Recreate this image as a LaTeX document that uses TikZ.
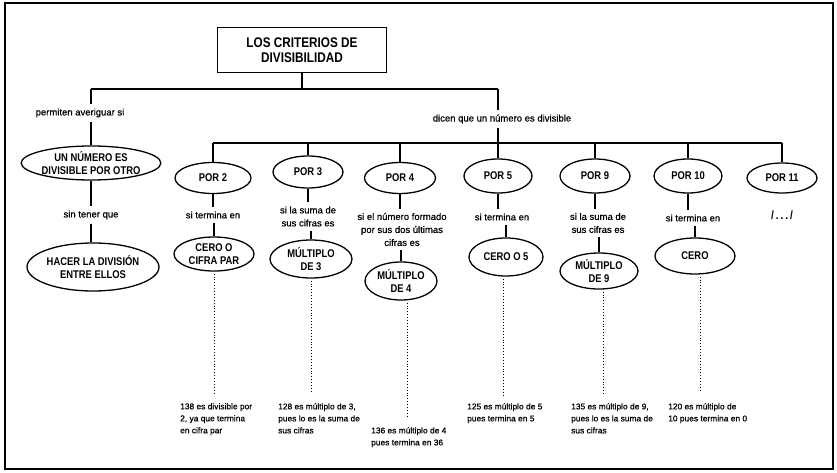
\documentclass[tikz,border=0pt]{standalone}
\usepackage{fontspec}
\newfontfamily\capsf{Liberation Sans}[FakeStretch=0.84]
\newfontfamily\labf{Liberation Sans}[FakeBold=0.6]
\usetikzlibrary{shapes.geometric}
\begin{document}
\begin{tikzpicture}[x=1pt,y=-1pt,
  oval/.style={draw, ellipse, line width=1.3pt, inner sep=0pt, align=center,
    font=\capsf\bfseries\fontsize{11.2}{12.5}\selectfont},
  titlebox/.style={draw, rectangle, line width=1.3pt, inner sep=0pt, align=center,
    minimum width=169pt, minimum height=45pt,
    font=\capsf\bfseries\fontsize{14}{15.5}\selectfont},
  lab/.style={inner xsep=1pt, inner ysep=4pt, align=center,
    font=\labf\fontsize{9.5}{13}\selectfont},
  ex/.style={anchor=north west, inner sep=0pt, align=left,
    font=\labf\fontsize{8.4}{12}\selectfont},
  conn/.style={line width=1.2pt},
  dots/.style={line width=1pt, dash pattern=on 0.9pt off 2pt}]
\useasboundingbox (0,0) rectangle (837,473);
\draw[line width=1.5pt] (5,3) rectangle (833,469);

% title
\node[titlebox] (title) at (302,50) {LOS CRITERIOS DE\\DIVISIBILIDAD};
\coordinate (jT) at (302,89);
\coordinate (jL) at (91,89);
\coordinate (jR) at (498,89);
\draw[conn] (title.south) -- (jT);
\draw[conn] (jL) -- (jR);

% left branch
\node[lab] (lp) at (80,113) {permiten averiguar si};
\node[oval, minimum width=116pt, minimum height=34pt] (e1) at (91,163) {UN NÚMERO ES\\DIVISIBLE POR OTRO};
\node[lab] (ls) at (91,215) {sin tener que};
\node[oval, minimum width=132pt, minimum height=48pt] (e2) at (93,267) {HACER LA DIVISIÓN\\ENTRE ELLOS};
\draw[conn] (jL) -- (jL |- lp.north);
\draw[conn] (lp.south -| jL) -- (e1.north);
\draw[conn] (e1.south) -- (e1.south |- ls.north);
\draw[conn] (ls.south) -- (ls.south |- e2.north);

% right branch
\node[lab] (ld) at (502,119) {dicen que un número es divisible};
\coordinate (h0) at (213,143);
\coordinate (h1) at (782,143);
\draw[conn] (jR) -- (jR |- ld.north);
\draw[conn] (ld.south -| jR) -- (jR |- h0);
\draw[conn] (h0) -- (h1);

\node[oval, minimum width=76pt, minimum height=31pt] (p2) at (213,178) {POR 2};
\node[oval, minimum width=70pt, minimum height=32pt] (p3) at (308,172) {POR 3};
\node[oval, minimum width=71pt, minimum height=31pt] (p4) at (400,178) {POR 4};
\node[oval, minimum width=68pt, minimum height=34pt] (p5) at (498,176) {POR 5};
\node[oval, minimum width=70pt, minimum height=34pt] (p9) at (595,176) {POR 9};
\node[oval, minimum width=68pt, minimum height=34pt] (p10) at (688,176) {POR 10};
\node[oval, minimum width=70pt, minimum height=30pt] (p11) at (782,178) {POR 11};
\foreach \p in {p2,p3,p4,p5,p9,p10,p11}{
  \draw[conn] (\p.north |- h0) -- (\p.north);
}

\node[lab] (t2) at (213,215) {si termina en};
\node[lab] (t3) at (308,216.5) {si la suma de\\sus cifras es};
\node[lab] (t4) at (402,229.5) {si el número formado\\por sus dos últimas\\cifras es};
\node[lab] (t5) at (502,217) {si termina en};
\node[lab] (t9) at (598,223) {si la suma de\\sus cifras es};
\node[lab] (t10) at (693,218) {si termina en};
\node[font=\capsf\bfseries\fontsize{12}{14}\selectfont] (t11) at (782,215) {/\,.\,.\,.\,/};

\node[oval, minimum width=80pt, minimum height=34pt] (c2) at (214,254) {CERO O\\CIFRA PAR};
\node[oval, minimum width=82pt, minimum height=38pt] (c3) at (311,259) {MÚLTIPLO\\DE 3};
\node[oval, minimum width=72pt, minimum height=38pt] (c4) at (401,281) {MÚLTIPLO\\DE 4};
\node[oval, minimum width=74pt, minimum height=38pt] (c5) at (506,257) {CERO O 5};
\node[oval, minimum width=78pt, minimum height=36pt] (c9) at (599,271) {MÚLTIPLO\\DE 9};
\node[oval, minimum width=80pt, minimum height=36pt] (c10) at (695,256) {CERO};

\foreach \p/\t/\c in {p2/t2/c2,p3/t3/c3,p4/t4/c4,p5/t5/c5,p9/t9/c9,p10/t10/c10}{
  \draw[conn] (\p.south) -- (\p.south |- \t.north);
  \draw[conn] (\t.south -| \c.north) -- (\c.north);
}

% dotted leaders
\coordinate (d2) at (214,395);
\coordinate (d3) at (311,392);
\coordinate (d4) at (407,418);
\coordinate (d5) at (503,395);
\coordinate (d9) at (603,395);
\coordinate (d10) at (700,392);
\foreach \c/\d in {c2/d2,c3/d3,c4/d4,c5/d5,c9/d9,c10/d10}{
  \draw[dots] ([yshift=-2pt]\c.south -| \d) -- (\d);
}

% examples
\node[ex] (x2) at (180,403) {138 es divisible por\\2, ya que termina\\en cifra par};
\node[ex] (x3) at (278,403) {128 es múltiplo de 3,\\pues lo es la suma de\\sus cifras};
\node[ex] (x4) at (371,427) {136 es múltiplo de 4\\pues termina en 36};
\node[ex] (x5) at (467,403) {125 es múltiplo de 5\\pues termina en 5};
\node[ex] (x9) at (571,403) {135 es múltiplo de 9,\\pues lo es la suma de\\sus cifras};
\node[ex] (x10) at (668,403) {120 es múltiplo de\\10 pues termina en 0};
\end{tikzpicture}
\end{document}
